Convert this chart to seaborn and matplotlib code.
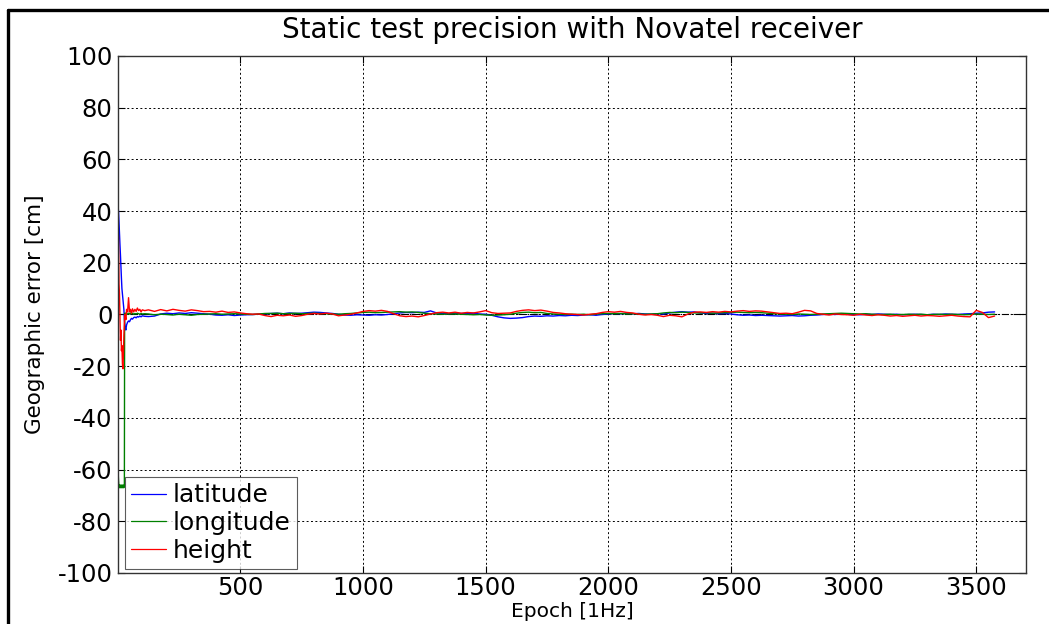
import matplotlib
matplotlib.use("Agg")
import matplotlib.pyplot as plt
from matplotlib.lines import Line2D
import numpy as np
import pandas as pd
import seaborn as sns

# Epochs (1 Hz): dense sampling through the convergence phase, then every 25 s
EPOCHS_START = [1, 3, 5, 7, 9, 11, 13, 15, 17, 19, 21, 23, 25, 27, 28, 30, 33,
                36, 40, 44, 48, 52, 56, 60, 65, 70, 75, 80, 85, 90, 95, 100, 110]
EPOCHS_STEADY = list(range(125, 3576, 25))

# Geographic error in cm
LAT_START = [42, 40, 36, 31, 27, 23, 18, 14, 10, 8, 6, 4, 2, -2, -3, -5, -6,
             -4, -3, -2.5, -2.8, -2, -1.5, -1.8, -1.2, -1, -1.3, -0.8, -1, -0.6, -0.9, -0.5, -0.7]
LON_START = [-60, -64, -67, -66, -67, -66, -67, -66, -67, -66, -67, -66, -67, -66, -0.5, 0.6, -0.2,
             0.4, 0.1, 0.5, 0.2, 0.6, 0.3, 0.5, 0.1, 0.4, 0.2, 0.5, 0.3, 0.1, 0.4, 0.2, 0.3]
HGT_START = [34, 30, 12, 8, -2, -10, -6, -14, -12, -19, -21, -16, -8, -3, -1, 0, -2,
             2, 1, 6.5, 1, 2, 0.5, 2.2, 1, 2, 1.2, 2.5, 1.5, 2, 1, 1.8, 1.5]

LAT_STEADY = [
    -0.8, -0.6, 0.2, 0.5, 0.3, 0.6, 0.4, 0.7, 0.5, 0.3,
    0.1, -0.2, -0.3, -0.1, -0.4, -0.2, -0.1, 0.0, 0.1, 0.3,
    0.4, 0.5, 0.3, 0.6, 0.4, 0.5, 0.7, 0.9, 0.8, 0.6,
    0.4, 0.1, -0.2, -0.3, -0.1, -0.2, -0.3, -0.1, -0.2, 0.0,
    0.3, 0.6, 0.8, 0.7, 0.9, 0.8, 1.4, 0.6, 0.4, 0.3,
    0.5, 0.4, 0.3, 0.5, 0.2, 0.1, -0.3, -0.9, -1.3, -1.5,
    -1.4, -1.2, -0.8, -0.6, -0.7, -0.5, -0.6, -0.4, -0.5, -0.3,
    -0.4, -0.2, -0.1, -0.3, 0.0, 0.2, 0.4, 0.3, 0.5, 0.3,
    0.4, 0.2, 0.1, 0.3, 0.2, 0.6, 0.9, 1.1, 0.9, 1.0,
    0.6, 0.4, 0.5, 0.3, 0.4, 0.2, -0.1, -0.3, -0.2, -0.4,
    -0.3, -0.4, -0.5, -0.6, -0.5, -0.4, -0.6, -0.5, -0.3, -0.2,
    0.0, 0.1, 0.0, 0.2, 0.1, 0.0, -0.1, 0.1, 0.0, 0.2,
    0.1, 0.0, 0.1, -0.1, 0.0, 0.1, 0.0, -0.1, 0.1, 0.0,
    0.2, 0.1, 0.0, 0.2, 0.3, 0.5, 0.6, 0.9, 1.0,
]
LON_STEADY = [
    0.2, -0.1, 0.1, 0.0, -0.2, 0.1, -0.1, -0.3, 0.0, 0.1,
    0.2, 0.3, 0.1, 0.2, 0.3, 0.2, 0.1, 0.0, 0.2, 0.4,
    0.4, 0.5, 0.3, 0.4, 0.5, 0.3, 0.4, 0.5, 0.4, 0.3,
    0.2, 0.1, 0.3, 0.4, 0.6, 0.8, 0.9, 0.7, 0.8, 0.9,
    1.0, 1.1, 0.9, 1.0, 0.8, 0.5, 0.3, 0.2, 0.1, 0.2,
    0.2, 0.1, 0.0, -0.1, 0.0, -0.2, -0.3, -0.2, -0.1, 0.1,
    0.5, 0.8, 0.9, 0.7, 0.8, 0.4, 0.2, 0.1, 0.0, 0.1,
    0.0, 0.1, -0.1, 0.2, 0.3, 0.4, 0.3, 0.4, 0.2, 0.3,
    0.2, 0.1, 0.2, 0.3, 0.6, 0.8, 0.7, 0.9, 0.8, 0.6,
    0.6, 0.7, 0.5, 0.6, 0.7, 0.8, 0.9, 0.8, 0.7, 0.8,
    0.7, 0.5, 0.3, 0.2, 0.1, 0.0, 0.2, 0.1, 0.0, 0.1,
    0.2, 0.3, 0.4, 0.5, 0.4, 0.3, 0.2, 0.3, 0.1, 0.0,
    0.0, 0.1, -0.1, 0.0, 0.1, 0.0, 0.1, -0.1, 0.0, 0.1,
    0.0, 0.1, 0.0, -0.1, 0.0, 0.2, 0.1, 0.0, 0.1,
]
HGT_STEADY = [
    1.8, 1.2, 1.9, 1.4, 2.0, 1.6, 1.3, 1.8, 1.5, 1.1,
    1.2, 0.9, 1.3, 0.8, 1.0, 0.6, 0.3, 0.1, 0.2, -0.4,
    -0.8, -0.3, -0.5, -0.2, -0.7, -0.4, 0.1, 0.4, 0.2, 0.5,
    0.2, -0.5, -0.2, 0.1, 0.6, 1.2, 1.5, 1.3, 1.6, 1.2,
    0.3, -0.5, -0.8, -0.6, -0.9, -0.4, 0.2, 0.7, 0.9, 0.6,
    0.9, 0.5, 0.8, 0.6, 1.0, 1.5, 0.7, 0.4, 0.5, 0.6,
    1.2, 1.6, 1.8, 1.5, 1.7, 1.3, 0.8, 0.6, 0.3, 0.1,
    0.0, -0.2, 0.1, 0.3, 0.8, 1.1, 0.9, 1.2, 0.8, 0.6,
    0.1, -0.2, 0.0, -0.3, -0.8, -0.3, -0.5, -0.9, 0.2, 0.9,
    1.0, 0.8, 1.1, 0.9, 1.2, 1.0, 1.3, 1.5, 1.2, 1.4,
    1.3, 1.0, 0.7, 0.4, 0.5, 0.3, 0.9, 1.6, 1.4, 0.4,
    0.1, -0.2, 0.2, 0.0, -0.1, -0.3, 0.1, -0.2, -0.4, -0.1,
    -0.3, -0.6, -0.4, -0.7, -0.5, -0.3, -0.6, -0.4, -0.5, -0.7,
    -0.5, -0.3, -0.6, -0.8, -0.9, 1.6, 0.8, -1.2, -0.6,
]

SERIES = ["latitude", "longitude", "height"]
COLORS = {"latitude": "#0000ff", "longitude": "#008000", "height": "#ff0000"}

epochs = EPOCHS_START + EPOCHS_STEADY
values = {
    "latitude": LAT_START + LAT_STEADY,
    "longitude": LON_START + LON_STEADY,
    "height": HGT_START + HGT_STEADY,
}
df = pd.concat(
    [pd.DataFrame({"epoch": epochs, "error": values[s], "component": s}) for s in SERIES],
    ignore_index=True,
)

sns.set_theme(style="white")
plt.rcParams["font.family"] = ["DejaVu Sans"]
plt.rcParams["axes.unicode_minus"] = False
plt.rcParams["text.color"] = "black"
plt.rcParams["axes.labelcolor"] = "black"

fig = plt.figure(figsize=(10.49, 6.24), dpi=100)
fig.patch.set_facecolor("white")
ax = fig.add_axes([118 / 1049, 1 - 573 / 624, (1026 - 118) / 1049, (573 - 56) / 624])

# outer frame of the figure window
fig.add_artist(Line2D([8 / 1049, 8 / 1049], [0, 1 - 10 / 624], transform=fig.transFigure,
                      color="black", lw=2.4))
fig.add_artist(Line2D([8 / 1049, 1], [1 - 10 / 624, 1 - 10 / 624], transform=fig.transFigure,
                      color="black", lw=2.4))

ax.axhline(0, color="black", lw=0.8, ls="-.", zorder=1)

sns.lineplot(data=df, x="epoch", y="error", hue="component", hue_order=SERIES,
             palette=COLORS, estimator=None, sort=False, lw=1.0, ax=ax, zorder=2)

ax.set_xlim(1, 3703)
ax.set_ylim(-100, 100)
ax.set_xticks([500, 1000, 1500, 2000, 2500, 3000, 3500])
ax.set_yticks(np.arange(-100, 101, 20))
ax.grid(True, color="black", lw=0.7, ls=(0, (2, 2.5)))
ax.tick_params(direction="in", length=5, width=0.8, labelsize=17.5, colors="black",
               labelcolor="black", top=True, right=True, bottom=True, left=True)
ax.tick_params(axis="x", pad=2)
ax.tick_params(axis="y", pad=4)
for sp in ax.spines.values():
    sp.set_color("#333333")
    sp.set_linewidth(1.0)

ax.set_title("Static test precision with Novatel receiver", fontsize=20, pad=13, color="black")
ax.set_xlabel("Epoch [1Hz]", fontsize=14.5, color="black")
ax.xaxis.set_label_coords(0.5, -0.057)
ax.set_ylabel("Geographic error [cm]", fontsize=15.5, color="black")
ax.yaxis.set_label_coords(-0.080, 0.5)

leg = ax.legend(loc="lower left", bbox_to_anchor=(0.0077, 0.0077), borderaxespad=0,
                fontsize=18, frameon=True, fancybox=False, edgecolor="#333333",
                handlelength=1.4, handletextpad=0.25, labelspacing=0.15, borderpad=0.25)
leg.get_frame().set_linewidth(0.8)
for txt in leg.get_texts():
    txt.set_color("black")
for h in leg.get_lines():
    h.set_linewidth(0.9)

fig.savefig("out.png", dpi=100, facecolor="white")
